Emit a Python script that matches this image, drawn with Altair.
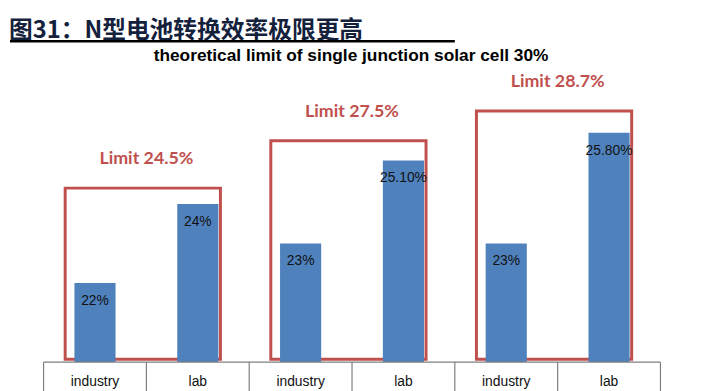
import altair as alt
import pandas as pd

# ---- data ----
categories = ["industry", "lab"]
industry = [22, 23, 23]
lab = [24, 25.1, 25.8]
industry_labels = ["22%", "23%", "23%"]
lab_labels = ["24%", "25.10%", "25.80%"]
limit_labels = ["Limit 24.5%", "Limit 27.5%", "Limit 28.7%"]
box_top = [24.4, 25.6, 26.35]
title_text = "图31：N型电池转换效率极限更高"
subtitle_text = "theoretical limit of single junction solar cell 30%"

Y0 = 20
BAR = "#4F81BD"
RED = "#C0504D"
PXX = 104.0  # px per x unit
PXY = 40.0   # px per y unit


def dx(px):
    return px / PXX


def dy(py):
    return 28 - py / PXY


rows = []
for g in range(3):
    for k, (vals, labs) in enumerate([(industry, industry_labels), (lab, lab_labels)]):
        idx = 2 * g + k
        rows.append({"cat": categories[k], "x0": idx + 0.3, "x1": idx + 0.7, "xc": idx + 0.5,
                     "v": vals[g], "lbl": labs[g], "base": Y0, "ly": dy(340)})
bars_df = pd.DataFrame(rows)

boxes_df = pd.DataFrame({
    "x0": [2 * g + 0.21 for g in range(3)],
    "x1": [2 * g + 1.72 for g in range(3)],
    "xc": [2 * g + 1.0 for g in range(3)],
    "top": box_top,
    "bottom": [Y0 + 0.075] * 3,
    "lbl": limit_labels,
})

edges_df = pd.DataFrame({"e": list(range(7)), "ya": [dy(320)] * 7, "yb": [dy(352)] * 7})
hline_df = pd.DataFrame({"xa": [0], "xb": [6], "y": [Y0]})

xs = alt.Scale(domain=[0, 6], nice=False, zero=False)
ys = alt.Scale(domain=[20, 28], nice=False, zero=False)

bars = alt.Chart(bars_df).mark_rect(color=BAR).encode(
    x=alt.X("x0:Q", scale=xs, axis=None), x2="x1:Q",
    y=alt.Y("base:Q", scale=ys, axis=None), y2="v:Q",
)
bar_text = alt.Chart(bars_df).mark_text(
    font="Liberation Sans", fontSize=14, color="#111111", baseline="middle", dy=18
).encode(x=alt.X("xc:Q", scale=xs, axis=None), y=alt.Y("v:Q", scale=ys, axis=None), text="lbl:N")

boxes = alt.Chart(boxes_df).mark_rect(fillOpacity=0, stroke=RED, strokeWidth=3).encode(
    x=alt.X("x0:Q", scale=xs, axis=None), x2="x1:Q",
    y=alt.Y("bottom:Q", scale=ys, axis=None), y2="top:Q",
)
box_text = alt.Chart(boxes_df).mark_text(
    font="Lato", fontWeight="bold", fontSize=18, color=RED, baseline="middle", dy=-29
).encode(x=alt.X("xc:Q", scale=xs, axis=None), y=alt.Y("top:Q", scale=ys, axis=None), text="lbl:N")

hline = alt.Chart(hline_df).mark_rule(color="#7F7F7F", strokeWidth=1.2).encode(
    x=alt.X("xa:Q", scale=xs, axis=None), x2="xb:Q", y=alt.Y("y:Q", scale=ys, axis=None)
)
vlines = alt.Chart(edges_df).mark_rule(color="#7F7F7F", strokeWidth=1.2, clip=False).encode(
    x=alt.X("e:Q", scale=xs, axis=None), y=alt.Y("ya:Q", scale=ys, axis=None), y2="yb:Q"
)
cat_text = alt.Chart(bars_df).mark_text(
    font="Liberation Sans", fontSize=14, color="#111111", baseline="middle"
).encode(x=alt.X("xc:Q", scale=xs, axis=None), y=alt.Y("ly:Q", scale=ys, axis=None), text="cat:N")

title_df = pd.DataFrame({"t": [title_text], "x": [dx(-35)], "y": [dy(-8)],
                         "ux0": [dx(-34)], "ux1": [dx(416)], "uy": [dy(-4.5)]})
title = alt.Chart(title_df).mark_text(
    font="Noto Sans CJK SC", fontWeight="bold", fontSize=24, color="#14213D",
    align="left", baseline="alphabetic"
).encode(x=alt.X("x:Q", scale=xs, axis=None), y=alt.Y("y:Q", scale=ys, axis=None), text="t:N")
underline = alt.Chart(title_df).mark_rule(color="#000000", strokeWidth=2.5).encode(
    x=alt.X("ux0:Q", scale=xs, axis=None), x2="ux1:Q", y=alt.Y("uy:Q", scale=ys, axis=None)
)
sub_df = pd.DataFrame({"t": [subtitle_text], "x": [dx(311)], "y": [dy(15)]})
subtitle = alt.Chart(sub_df).mark_text(
    font="Liberation Sans", fontWeight="bold", fontSize=17.5, color="#000000",
    align="center", baseline="alphabetic"
).encode(x=alt.X("x:Q", scale=xs, axis=None), y=alt.Y("y:Q", scale=ys, axis=None), text="t:N")

chart = alt.layer(
    boxes, bars, bar_text, box_text, hline, vlines, cat_text, title, underline, subtitle
).properties(
    width=624, height=320,
    padding={"left": 36, "top": 36, "right": 40, "bottom": 27},
    autosize=alt.AutoSizeParams(type="none"),
    background="white",
).configure_view(stroke=None)

chart.save("out.html", embed_options={"renderer": "svg", "actions": False})
